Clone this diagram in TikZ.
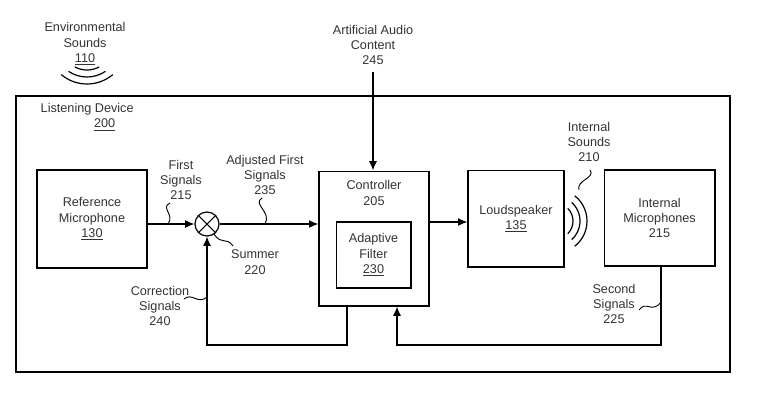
\documentclass[tikz,border=0pt]{standalone}
\usepackage{fontspec}
\setmainfont{Liberation Sans}
\usetikzlibrary{arrows.meta}
\begin{document}
\begin{tikzpicture}[x=0.75pt,y=-0.75pt,
  every node/.style={font=\fontsize{9.5}{11.5}\selectfont, align=center, text=black!80},
  box/.style={draw, line width=1pt, inner sep=0pt},
  line/.style={draw, line width=0.9pt},
  arr/.style={line, -{Latex[length=7pt,width=6pt]}},
  sq/.style={draw, line width=0.7pt}]
\useasboundingbox (0,0) rectangle (762,412);
\draw[line width=0.9pt] (16,96) rectangle (730,372);
% boxes
\node[box, minimum width=82.5pt, minimum height=73.5pt] (ref) at (92,219) {Reference\\Microphone\\\underline{130}};
\node[draw, circle, line width=0.9pt, minimum size=18pt, inner sep=0pt] (sum) at (207,224) {};
\draw[line width=0.8pt] (sum.north west) -- (sum.south east) (sum.north east) -- (sum.south west);
\node[box, minimum width=82.5pt, minimum height=101pt] (ctl) at (374,238.5) {};
\node[anchor=north] (ctlt) at (374,176) {Controller\\205};
\node[box, minimum width=56pt, minimum height=49.5pt] (af) at (373.5,255) {Adaptive\\Filter\\\underline{230}};
\node[box, minimum width=72pt, minimum height=72.5pt] (ls) at (516,218.5) {Loudspeaker\\\underline{135}};
\node[box, minimum width=83pt, minimum height=72pt] (im) at (659.5,218) {Internal\\Microphones\\215};
% texts
\node (env) at (85,44) {Environmental\\Sounds\\\underline{110}};
\node[align=left, anchor=west] (ld) at (36,117) {Listening Device\\\hspace*{40pt}\underline{200}};
\node (aac) at (373,45) {Artificial Audio\\Content\\245};
\node (fs) at (181,180) {First\\Signals\\215};
\node (afs) at (265,175) {Adjusted First\\Signals\\235};
\node (sm) at (255,262) {Summer\\220};
\node (cs) at (160,306) {Correction\\Signals\\240};
\node (is) at (589,142) {Internal\\Sounds\\210};
\node (ss) at (614,304) {Second\\Signals\\225};
% connectors
\coordinate (top) at (373,72);
\draw[arr] (top) -- (ctl.north -| top);
\draw[arr] (ref.east |- sum) -- (sum.west);
\draw[arr] (sum.east) -- (ctl.west |- sum);
\draw[arr] (ctl.east |- 0,222) -- (ls.west |- 0,222);
\coordinate (b1) at (347,345);
\coordinate (b2) at (207,345);
\draw[arr] (ctl.south -| b1) -- (b1) -- (b2) -- (sum.south);
\coordinate (c1) at (661,345);
\coordinate (c2) at (397,345);
\draw[arr] (im.south -| c1) -- (c1) -- (c2) -- (ctl.south -| c2);
% sound waves
\foreach \r/\a in {26/28,33/34,40/40}
  \draw[line width=0.9pt] (87,44) ++(90-\a:\r) arc[start angle=90-\a, end angle=90+\a, radius=\r];
\foreach \r/\a in {18/45,25/48,32/52}
  \draw[line width=0.9pt] (555,221) ++(-\a:\r) arc[start angle=-\a, end angle=\a, radius=\r];
% squiggles
\draw[sq] (170,203) .. controls (160,208) and (175,214) .. (168,224);
\draw[sq] (262,198) .. controls (252,204) and (272,212) .. (265,224);
\draw[sq] (214,234) .. controls (222,246) and (226,236) .. (233,246);
\draw[sq] (184,299) .. controls (192,292) and (198,305) .. (207,297);
\draw[sq] (590,170) .. controls (596,178) and (576,180) .. (579,190);
\draw[sq] (639,310) .. controls (646,300) and (652,314) .. (661,302);
\end{tikzpicture}
\end{document}
